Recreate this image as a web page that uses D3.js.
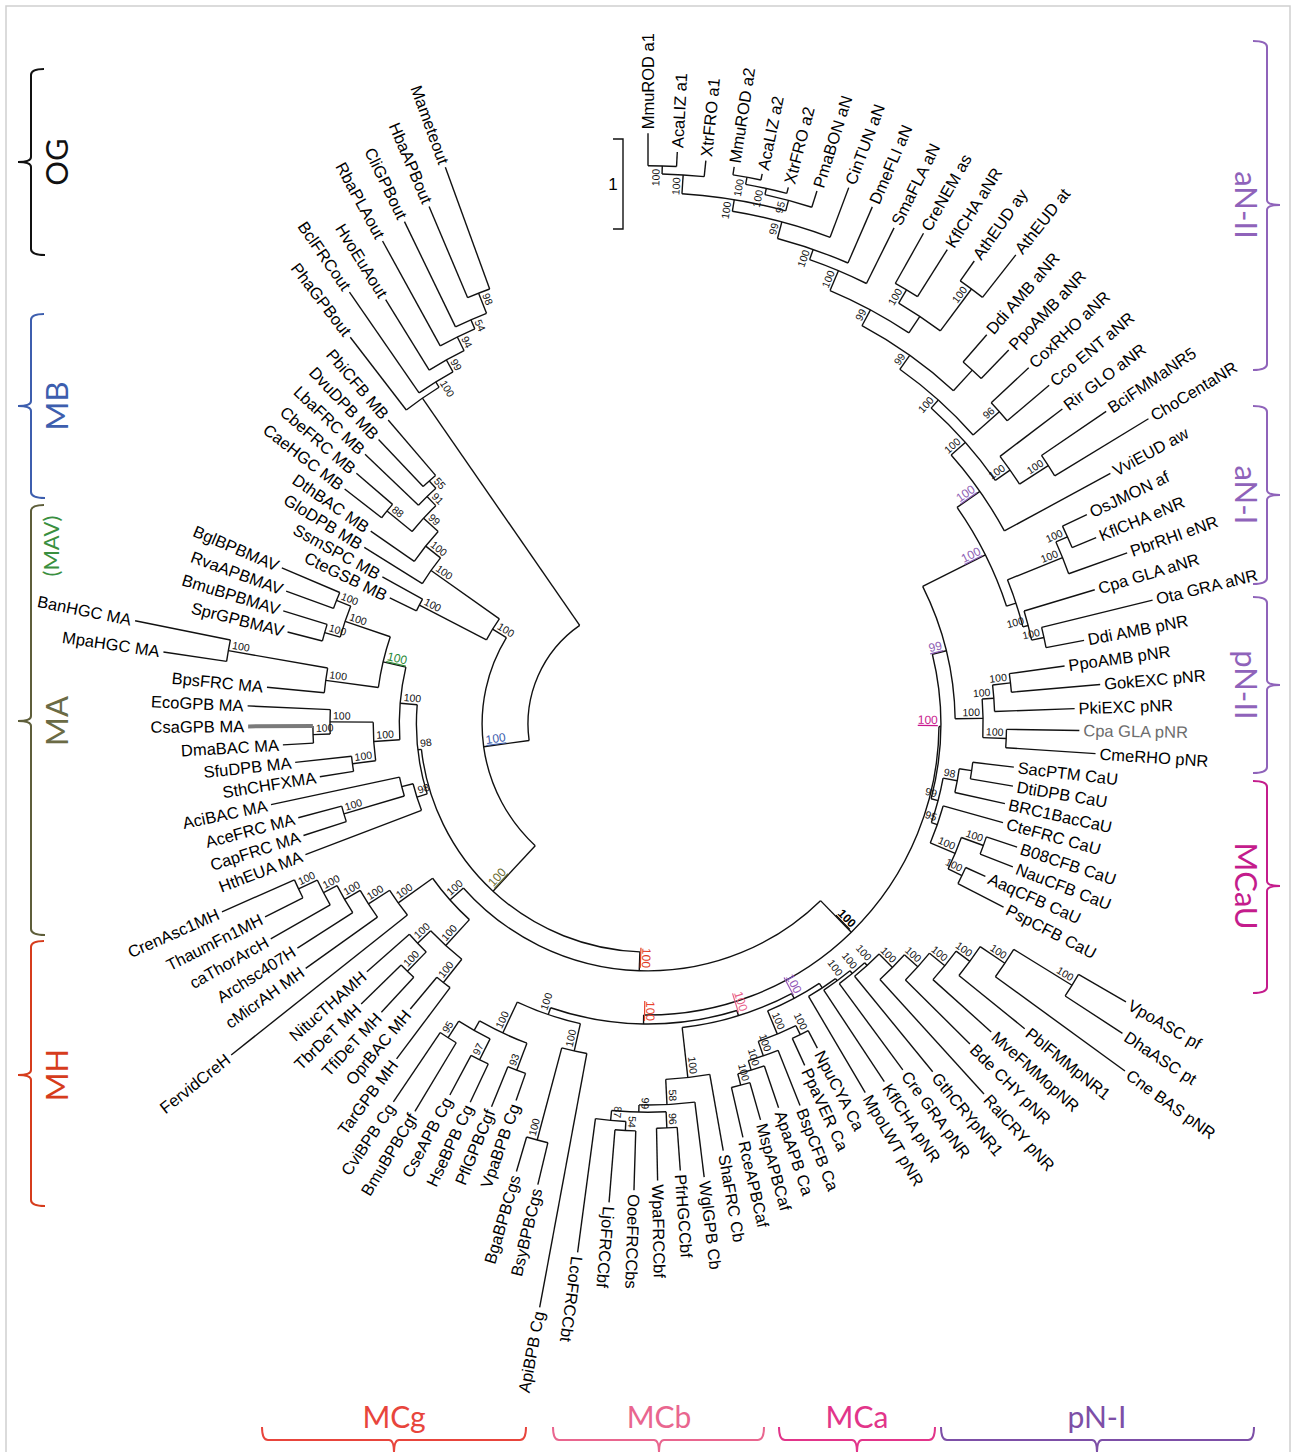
<!DOCTYPE html>
<html>
<head>
<meta charset="utf-8">
<script src="https://cdn.jsdelivr.net/npm/d3@7"></script>
<style>
  body { margin: 0; background: #fff; }
</style>
</head>
<body>
<svg id="chart" width="1292" height="1452"></svg>
<script>
// Tree pieces in Newick: branch lengths in tree units (scale bar = 1), internal labels = bootstrap
const aN2core = "((((MmuROD a1:0.36,AcaLIZ a1:0.16)100:0.09,XtrFRO a1:0.18)100:0.21,(((MmuROD a2:0.09,AcaLIZ a2:0.07)100:0.08,XtrFRO a2:0.07)100:0.07,PmaBON aN:0.19)95:0.12)100:0.13,CinTUN aN:0.59)99";
const aN2plant = "((CreNEM as:0.64,KflCHA aNR:0.62)100:0.17,(AthEUD ay:0.27,AthEUD at:0.60)100:0.58)";
const aN2 = `((((((${aN2core}:0.19,DmeFLI aN:0.68)100:0.12,SmaFLA aN:0.69)100:0.24,${aN2plant}:0.22)99:0.20,(Ddi AMB aNR:0.40,PpoAMB aNR:0.44):0.31)99:0.19,(CoxRHO aNR:0.57,Cco ENT aNR:0.61)96:0.39)100:0.12,(Rir GLO aNR:0.87,(BciFMMaNR5:0.87,ChoCentaNR:1.22)100:0.38)100:0.20)100`;
const aN1 = "(((OsJMON af:0.30,KflCHA eNR:0.29)100:0.14,PbrRHI eNR:0.69)100:0.66,(Cpa GLA aNR:0.82,(Ota GRA aNR:1.27,Ddi AMB pNR:0.43)100:0.14)100:0.06)";
const pN2 = "(((PpoAMB pNR:0.62,GokEXC pNR:0.99)100:0.20,PkiEXC pNR:0.89)100:0.13,(Cpa GLA pNR:0.81,CmeRHO pNR:1.00)100:0.26)100";
const mCaU = "(((SacPTM CaU:0.46,DtiDPB CaU:0.48):0.14,BRC1BacCaU:0.57)98:0.16,(CteFRC CaU:0.69,((B08CFB CaU:0.36,NauCFB CaU:0.39)100:0.26,(AaqCFB CaU:0.24,PspCFB CaU:0.57)100:0.17)100:0.30)95:0.07)99";
const pN1 = "((((((((((VpoASC pf:0.61,DhaASC pt:0.76)100:0.76,Cne BAS pNR:1.78)100:0.33,PblFMMpNR1:0.94)100:0.19,MveFMMopNR:0.87)100:0.22,Bde CHY pNR:1.01)100:0.20,RalCRY pNR:1.72)100:0.21,GthCRYpNR1:1.37)100:0.04,Cre GRA pNR:1.19)100:0.04,KflCHA pNR:1.22)100:0.03,MpoLWT pNR:1.24)";
const mCa = "((NpuCYA Ca:0.22,PpaVER Ca:0.33)100:0.11,(BspCFB Ca:0.66,(ApaAPB Ca:0.49,(MspAPBCaf:0.43,RceAPBCaf:0.57)100:0.13)100:0.11)100:0.17)100";
const mCb = "(ShaFRC Cb:0.86,(WglGPB Cb:0.84,((PfrHGCCbf:0.48,WpaFRCCbf:0.58)96:0.18,((OoeFRCCbs:0.66,LjoFRCCbf:0.81)54:0.10,LcoFRCCbt:1.50)87:0.11)99:0.08)58:0.28)100";
const mCg = "((ApiBPB Cg:2.87,(BsyBPBCgs:0.48,BgaBPBCgs:0.40)100:1.06)100:0.31,((VpaBPB Cg:0.32,PflGPBCgf:0.48)93:0.32,((HseBPB Cg:0.47,CseAPB Cg:0.50)97:0.26,(BmuBPBCgf:0.89,CviBPB Cg:0.93)95:0.22):0.12)100:0.38)100";
const mH = "(((TarGPB MH:0.99,OprBAC MH:0.46)100:0.33,((TfiDeT MH:0.53,TbrDeT MH:0.62)100:0.30,NitucTHAMH:0.63)100:0.20)100:0.39,(FervidCreH:2.50,(cMicrAH MH:0.98,(Archsc407H:0.73,(caThorArcH:0.76,(ThaumFn1MH:0.47,CrenAsc1MH:0.88)100:0.23)100:0.17)100:0.20)100:0.28)100:0.47)100";
const mA = "((HthEUA MA:1.38,((CapFRC MA:0.50,AceFRC MA:0.50)100:0.70,AciBAC MA:1.46):0.13)98:0.12,(((SthCHFXMA:0.38,SfuDPB MA:0.63)100:0.26,((DmaBAC MA:0.34,CsaGPB MA:0.72)100:0.19,EcoGPB MA:0.92)100:0.48)100:0.29,((BpsFRC MA:0.64,(MpaHGC MA:0.71,BanHGC MA:1.08)100:1.12)100:0.59,((SprGPBMAV:0.40,BmuBPBMAV:0.51)100:0.18,(RvaAPBMAV:0.56,BglBPBMAV:0.70)100:0.17)100:0.53)100:0.26)100:0.19)98";
const mB = "((CteGSB MB:0.33,SsmSPC MB:0.51)100:0.84,(GloDPB MB:0.76,(DthBAC MB:0.59,((CaeHGC MB:0.52,CbeFRC MB:0.53)88:0.36,(LbaFRC MB:0.82,(DvuDPB MB:0.72,PbiCFB MB:0.81)55:0.11)91:0.14)99:0.22)100:0.21)100:0.93)100";
const oG = "(PhaGPBout:1.02,(BclFRCout:1.36,(HvoEuAout:0.92,(RbaPLAout:1.33,(CliGPBout:1.30,(HbaAPBout:1.10,Mameteout:1.44)98:0.24)54:0.11)94:0.17)99:0.15)100:0.07)";

const upper = `((((${aN2}:0.21,VviEUD aw:1.34)100:0.31,${aN1}:0.11)100:0.78,${pN2}:0.31)99:0.16,${mCaU}:0.08)100`;
const lower = `(((${pN1}:0.06,${mCa}:0.28)100:0.06,${mCb}:0.56)100:0.06,${mCg}:0.08)100`;
const treeText = `(((((${upper}:0.02,${lower}:0.10)100:0.49,${mH}:0.20)100:0.21,${mA}:0.04)100:0.69,${mB}:0.18)100:0.51,${oG}:3.07);`;

// coloured (underlined) support values: first leaf | last leaf of the clade
const markedNodes = [
  ["MmuROD a1|PbiCFB MB", "#3d5eae"],
  ["MmuROD a1|BglBPBMAV", "#6b6b2e"],
  ["MmuROD a1|CrenAsc1MH", "#e03b24"],
  ["BpsFRC MA|BglBPBMAV", "#2e8b3a"],
  ["MmuROD a1|CviBPB Cg", "#000000"],
  ["VpoASC pf|CviBPB Cg", "#e8412f"],
  ["VpoASC pf|LcoFRCCbt", "#e8608a"],
  ["VpoASC pf|RceAPBCaf", "#9457b8"],
  ["MmuROD a1|PspCFB CaU", "#c8168d"],
  ["MmuROD a1|CmeRHO pNR", "#8e5fb5"],
  ["MmuROD a1|Ddi AMB pNR", "#8e5fb5"],
  ["MmuROD a1|VviEUD aw", "#8e5fb5"]
];

// clade brackets
const sideClades = ["OG", "MB", "MA", "MH"];
const sideColors = ["#111111", "#3d5eae", "#5e5e3a", "#d63c1c"];
const rightClades = ["aN-II", "aN-I", "pN-II", "MCaU"];
const rightColors = ["#8f63ba", "#8f63ba", "#8f63ba", "#c41c8c"];
const bottomClades = ["MCg", "MCb", "MCa", "pN-I"];
const bottomColors = ["#e8453c", "#e9668f", "#e2358a", "#7d4fa7"];

// ---------- parse ----------
function parseNewick(s) {
  let i = 0;
  function node() {
    const n = {};
    if (s[i] === "(") {
      n.children = [];
      i++;
      n.children.push(node());
      while (s[i] === ",") { i++; n.children.push(node()); }
      i++;
    }
    let name = "";
    while (i < s.length && !",():;".includes(s[i])) name += s[i++];
    n.name = name.trim();
    n.length = 0;
    if (s[i] === ":") {
      i++;
      let len = "";
      while (i < s.length && !",();".includes(s[i])) len += s[i++];
      n.length = +len;
    }
    return n;
  }
  return node();
}

const cx = 648, cy = 724;
const flipAngle = 99;
const svg = d3.select("#chart");

svg.append("rect").attr("x", 6).attr("y", 6).attr("width", 1284).attr("height", 1470)
  .attr("fill", "none").attr("stroke", "#cfcfcf").attr("stroke-width", 1.5);

const root = d3.hierarchy(parseNewick(treeText));
root.eachBefore(d => { d.dist = d.parent ? d.parent.dist + d.data.length : 0; });

const rScale = d3.scaleLinear().domain([0, 1]).range([120, 210]);
const leaves = root.leaves();
const angleScale = d3.scaleLinear().domain([0, leaves.length - 1]).range([-90, 250]);
leaves.forEach((d, i) => { d.angle = angleScale(i); });
root.eachAfter(d => {
  if (d.children) d.angle = (d.children[0].angle + d.children[d.children.length - 1].angle) / 2;
});

const rad = a => a * Math.PI / 180;
const px = (r, a) => cx + r * Math.cos(rad(a));
const py = (r, a) => cy + r * Math.sin(rad(a));

const g = svg.append("g");
const gLines = g.append("g").attr("fill", "none").attr("stroke", "#111").attr("stroke-width", 1.4);

root.descendants().forEach(d => {
  if (d.parent) {
    const r0 = rScale(d.parent.dist), r1 = rScale(d.dist);
    const hi = d.data.name === "CsaGPB MA";
    gLines.append("line")
      .attr("x1", px(r0, d.angle)).attr("y1", py(r0, d.angle))
      .attr("x2", px(r1, d.angle)).attr("y2", py(r1, d.angle))
      .attr("stroke", hi ? "#7a7a7a" : null)
      .attr("stroke-width", hi ? 4 : null);
  }
  if (d.children) {
    const r = rScale(d.dist);
    const a0 = d.children[0].angle, a1 = d.children[d.children.length - 1].angle;
    const p = d3.path();
    p.moveTo(px(r, a0), py(r, a0));
    p.arc(cx, cy, r, rad(a0), rad(a1), false);
    gLines.append("path").attr("d", p.toString());
  }
});

// leaf labels
const gLeaf = g.append("g").attr("transform", `translate(${cx},${cy})`)
  .style("font-family", "'Liberation Sans', Arial, sans-serif").style("font-size", "16.5px");
leaves.forEach(d => {
  const flip = d.angle > flipAngle;
  const r = rScale(d.dist) + 4;
  gLeaf.append("text")
    .attr("transform", `rotate(${flip ? d.angle + 180 : d.angle})`)
    .attr("x", flip ? -r : r)
    .attr("dy", "0.35em")
    .attr("text-anchor", flip ? "end" : "start")
    .attr("fill", d.data.name === "Cpa GLA pNR" ? "#6d6d6d" : "#000")
    .text(d.data.name);
});

// support values
const marks = new Map(markedNodes);
const gSup = g.append("g").attr("transform", `translate(${cx},${cy})`)
  .style("font-family", "'Liberation Sans', Arial, sans-serif");
root.descendants().forEach(d => {
  if (!d.children || !d.data.name) return;
  const lv = d.leaves();
  const key = lv[0].data.name + "|" + lv[lv.length - 1].data.name;
  const col = marks.get(key);
  const flip = d.angle > flipAngle;
  const r = rScale(d.dist) - 3;
  gSup.append("text")
    .attr("transform", `rotate(${flip ? d.angle + 180 : d.angle})`)
    .attr("x", flip ? -r : r)
    .attr("y", -2.5)
    .attr("text-anchor", flip ? "start" : "end")
    .attr("fill", col || "#111")
    .style("font-size", col ? "12px" : "10.5px")
    .style("font-weight", col === "#000000" ? "bold" : null)
    .style("text-decoration", col ? "underline" : null)
    .text(d.data.name);
});

// scale bar
svg.append("path").attr("d", "M613,139H623V229H613").attr("fill", "none").attr("stroke", "#111").attr("stroke-width", 1.4);
svg.append("text").attr("x", 613).attr("y", 190).attr("text-anchor", "middle")
  .style("font-family", "'Liberation Sans', Arial, sans-serif").style("font-size", "17px").text("1");

// brackets
const cladeFont = "Lato, 'Open Sans', sans-serif";
const sideSpans = [[69, 255, 162], [314, 498, 406], [505, 935, 721], [941, 1206, 1075]];
sideClades.forEach((name, i) => {
  const [y0, y1, ym] = sideSpans[i], x = 31, c = sideColors[i];
  svg.append("path").attr("fill", "none").attr("stroke", c).attr("stroke-width", 2)
    .attr("d", `M44,${y0}Q${x},${y0} ${x},${y0 + 6}V${ym - 5}Q${x},${ym} 18,${ym}Q${x},${ym} ${x},${ym + 5}V${y1 - 6}Q${x},${y1} 45,${y1}`);
  svg.append("text").attr("transform", `translate(57,${ym}) rotate(-90)`)
    .attr("text-anchor", "middle").attr("dy", "0.36em").attr("fill", i === 2 ? "#6b6b45" : c)
    .style("font-family", cladeFont).style("font-size", "31px").text(name);
});
svg.append("text").attr("transform", "translate(51,546) rotate(-90)")
  .attr("text-anchor", "middle").attr("dy", "0.36em").attr("fill", "#3a8f3f")
  .style("font-family", cladeFont).style("font-size", "22px").text("(MAV)");

const rightSpans = [[41, 370, 205], [406, 584, 495], [597, 773, 685], [781, 993, 886]];
rightClades.forEach((name, i) => {
  const [y0, y1, ym] = rightSpans[i], x = 1267, c = rightColors[i];
  svg.append("path").attr("fill", "none").attr("stroke", c).attr("stroke-width", 2)
    .attr("d", `M1253,${y0}Q${x},${y0} ${x},${y0 + 6}V${ym - 5}Q${x},${ym} 1280,${ym}Q${x},${ym} ${x},${ym + 5}V${y1 - 6}Q${x},${y1} 1253,${y1}`);
  svg.append("text").attr("transform", `translate(1246,${ym}) rotate(90)`)
    .attr("text-anchor", "middle").attr("dy", "0.36em").attr("fill", c)
    .style("font-family", cladeFont).style("font-size", "31px").text(name);
});

const bottomSpans = [[262, 526, 394], [553, 764, 659], [779, 935, 857], [941, 1254, 1097]];
bottomClades.forEach((name, i) => {
  const [x0, x1, xm] = bottomSpans[i], y = 1440, c = bottomColors[i];
  svg.append("path").attr("fill", "none").attr("stroke", c).attr("stroke-width", 2)
    .attr("d", `M${x0},1427Q${x0},${y} ${x0 + 6},${y}H${xm - 5}Q${xm},${y} ${xm},1453Q${xm},${y} ${xm + 5},${y}H${x1 - 6}Q${x1},${y} ${x1},1427`);
  svg.append("text").attr("x", xm).attr("y", 1428).attr("text-anchor", "middle").attr("fill", c)
    .style("font-family", cladeFont).style("font-size", "30px").text(name);
});
</script>
</body>
</html>
